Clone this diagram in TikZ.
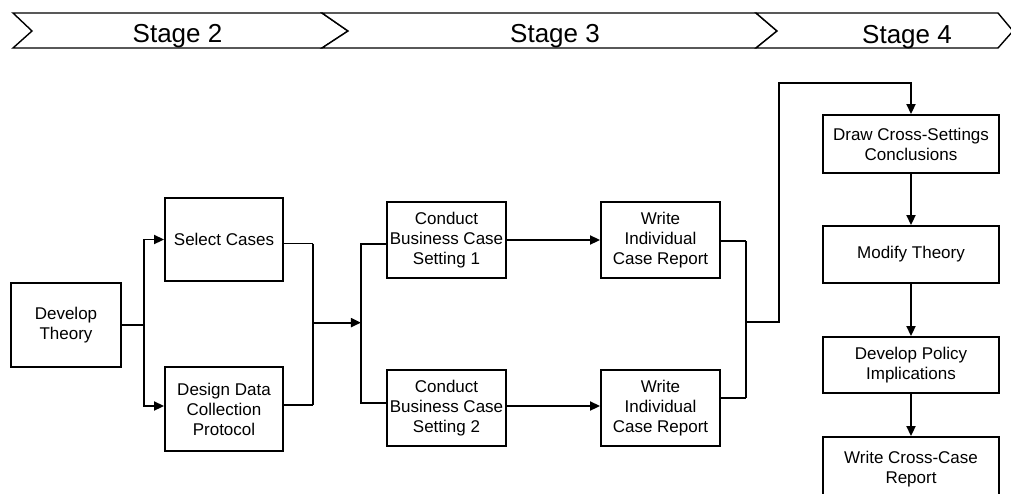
\documentclass[tikz,border=0pt]{standalone}
\usepackage{fontspec}
\setmainfont{Liberation Sans}
\usetikzlibrary{arrows.meta,calc}
\begin{document}
\begin{tikzpicture}[x=1pt,y=-1pt,
  box/.style={draw,line width=1.9pt,inner sep=0pt,align=center,
    font=\fontsize{17}{20}\selectfont},
  conn/.style={line width=1.9pt},
  arr/.style={conn,-{Triangle[length=10pt,width=9pt]}},
  band/.style={draw,line width=1.4pt,fill=white,line join=miter},
  stagelbl/.style={anchor=base,inner sep=0pt,font=\fontsize{26}{30}\selectfont}]
\useasboundingbox (0,0) rectangle (1011,493);
\clip (0,0) rectangle (1011,493);

% stage band
\draw[band] (13,13) -- (322,13) -- (348,31) -- (322,48) -- (13,48) -- (32,31) -- cycle;
\draw[band] (322,13) -- (756,13) -- (777,31) -- (756,48) -- (322,48) -- (348,31) -- cycle;
\draw[band] (756,13) -- (998,13) -- (1013,31) -- (998,48) -- (756,48) -- (777,31) -- cycle;
\node[stagelbl] (s2) at (177.5,42) {Stage 2};
\node[stagelbl] (s3) at (555,42.5) {Stage 3};
\node[stagelbl] (s4) at (907,43.5) {Stage 4};

% process boxes
\node[box,minimum width=110pt,minimum height=84pt] (dev) at (66,325) {Develop\\Theory};
\node[box,minimum width=118pt,minimum height=83pt] (sel) at (224,239.5) {Select Cases};
\node[box,minimum width=118pt,minimum height=84pt] (des) at (224,409) {Design Data\\Collection\\Protocol};
\node[box,minimum width=119pt,minimum height=76pt] (con1) at (446.5,240) {Conduct\\Business Case\\Setting 1};
\node[box,minimum width=119pt,minimum height=76pt] (con2) at (446.5,408) {Conduct\\Business Case\\Setting 2};
\node[box,minimum width=119pt,minimum height=76pt] (wr1) at (660.5,240) {Write\\Individual\\Case Report};
\node[box,minimum width=119pt,minimum height=76pt] (wr2) at (660.5,408) {Write\\Individual\\Case Report};
\node[box,minimum width=176pt,minimum height=58pt] (drw) at (911,144) {Draw Cross-Settings\\Conclusions};
\node[box,minimum width=176pt,minimum height=57pt] (mod) at (911,254.5) {Modify Theory};
\node[box,minimum width=176pt,minimum height=56pt] (pol) at (911,365) {Develop Policy\\Implications};
\node[box,minimum width=176pt,minimum height=64pt] (wcc) at (911,469) {Write Cross-Case\\Report};

% develop theory fans out
\draw[conn] (dev.east) -- ++(22,0) coordinate (j1);
\draw[arr] (j1) |- (sel.west);
\draw[arr] (j1) |- ([yshift=3pt]des.west);

% cases and protocol merge
\draw[conn] ([yshift=-4pt]sel.east) -- ++(29,0) coordinate (j2a);
\draw[conn] ([yshift=4pt]des.east) -- ++(29,0) coordinate (j2b);
\draw[conn] (j2a) -- (j2b);
\coordinate (j2) at ($(j2a)!0.49!(j2b)$);
\draw[arr] (j2) -- ++(48,0) coordinate (j3);
\draw[conn] ([yshift=-4pt]con1.west) -| (j3) |- ([yshift=5pt]con2.west);

% settings to individual reports
\draw[arr] (con1.east) -- (wr1.west);
\draw[arr] ([yshift=2pt]con2.east) -- ([yshift=2pt]wr2.west);

% individual reports merge into cross-case analysis
\draw[conn] ([yshift=-1pt]wr1.east) -- ++(25,0) coordinate (j4a);
\draw[conn] ([yshift=10pt]wr2.east) -- ++(25,0) coordinate (j4b);
\draw[conn] (j4a) -- (j4b);
\coordinate (j4) at (745,322);
\coordinate (top) at (779,83);
\draw[arr] (j4) -| (top) -| (drw.north);

% stage four chain
\draw[arr] (drw.south) -- (mod.north);
\draw[arr] (mod.south) -- (pol.north);
\draw[arr] (pol.south) -- (wcc.north);
\end{tikzpicture}
\end{document}
